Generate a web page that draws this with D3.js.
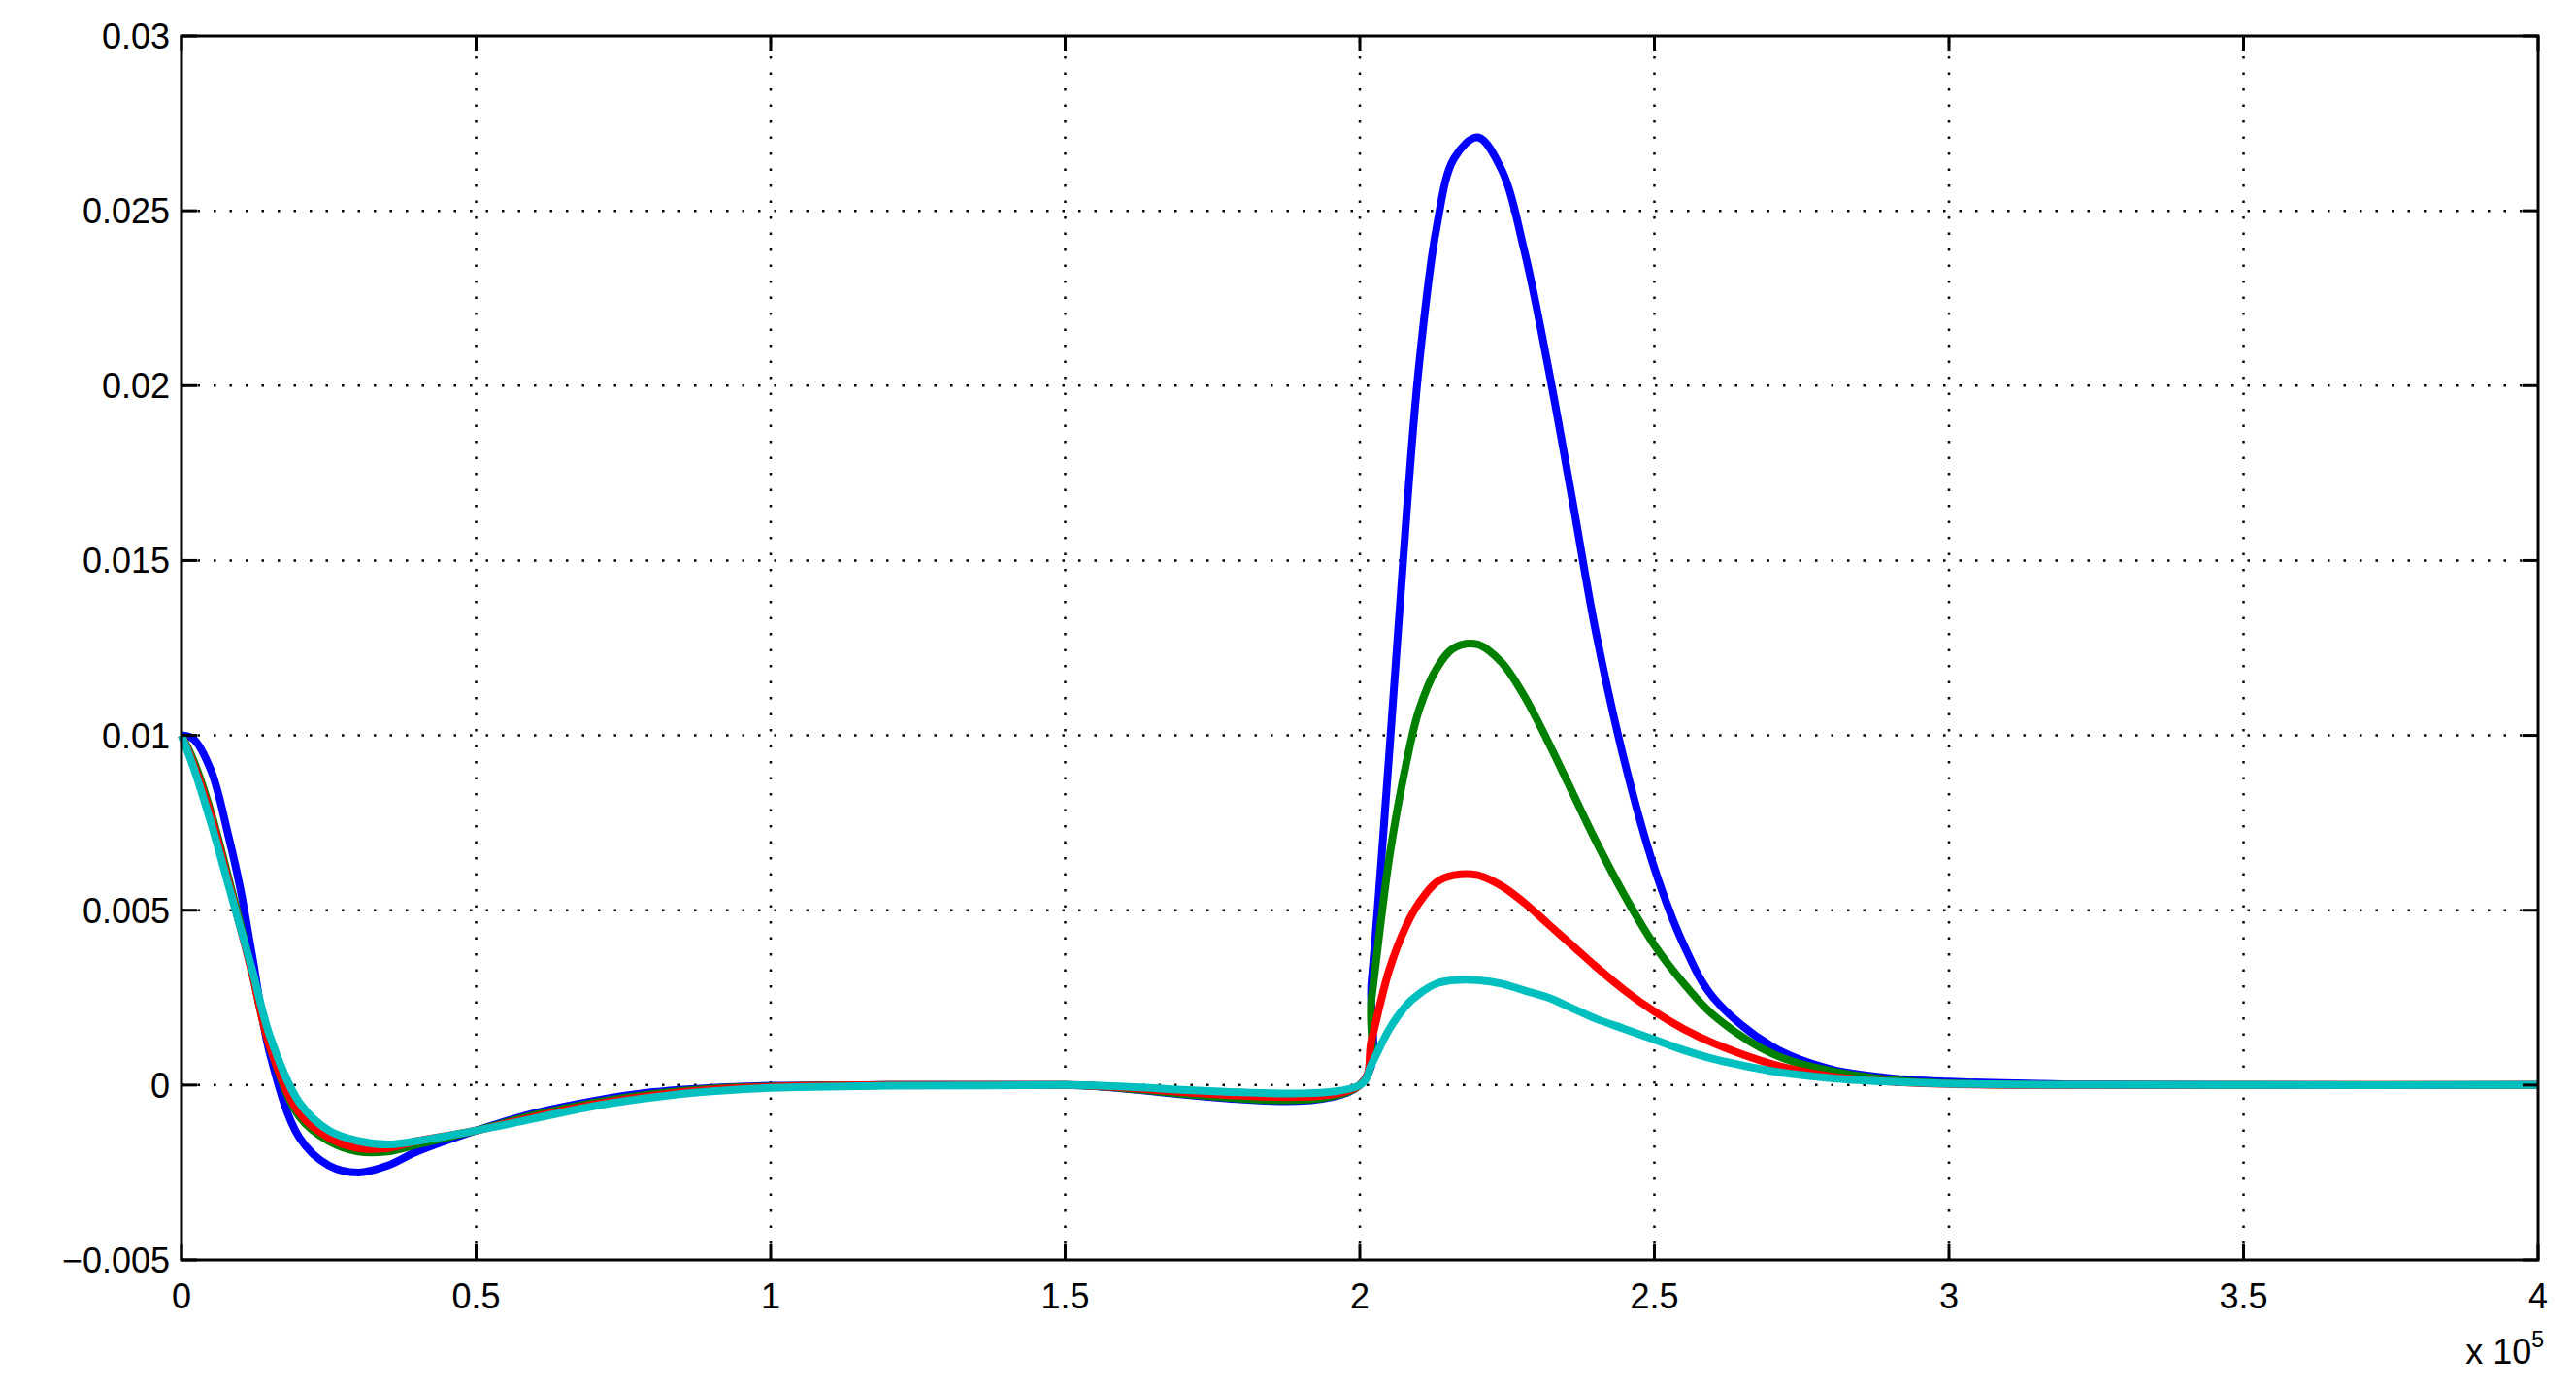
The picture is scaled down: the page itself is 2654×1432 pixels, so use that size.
<!DOCTYPE html>
<html><head><meta charset="utf-8">
<script src="https://d3js.org/d3.v7.min.js"></script>
<style>body{margin:0;background:#fff}text{font-family:"Liberation Sans",Arial,sans-serif}</style>
</head><body><svg id="c" width="2654" height="1432"></svg>
<script>
// x in units of 1e5
const xTicks = [0, 0.5, 1, 1.5, 2, 2.5, 3, 3.5, 4];
const yTicks = [-0.005, 0, 0.005, 0.01, 0.015, 0.02, 0.025, 0.03];
const yLabels = ["\u22120.005", "0", "0.005", "0.01", "0.015", "0.02", "0.025", "0.03"];

const xs = [0, 0.02, 0.05, 0.08, 0.1, 0.12, 0.15, 0.2, 0.25, 0.3, 0.35, 0.4, 0.5, 0.6, 0.7, 0.8, 0.9, 1.0, 1.2, 1.5, 2.0,
            2.02, 2.05, 2.08, 2.1, 2.13, 2.16, 2.2, 2.24, 2.28, 2.32, 2.36, 2.4, 2.45, 2.5, 2.55, 2.6, 2.7, 2.8, 2.9, 3.0, 3.2, 3.5, 4.0];
const blue  = [0.01, 0.0099, 0.009, 0.0071, 0.0056, 0.0037, 0.0009, -0.0015, -0.0023, -0.0025, -0.0023, -0.0019, -0.0013, -0.0008, -0.00045, -0.0002, -0.00008, -0.00002, 0, 0, 0,
               0.003, 0.0095, 0.0165, 0.0205, 0.0245, 0.0265, 0.0271, 0.0262, 0.0238, 0.0205, 0.0168, 0.013, 0.0092, 0.0062, 0.004, 0.0025, 0.0011, 0.00045, 0.0002, 0.0001, 0.00002, 0, 0];
const green = [0.01, 0.0093, 0.0078, 0.0059, 0.0046, 0.0032, 0.0011, -0.0009, -0.0016, -0.0019, -0.0019, -0.0017, -0.0013, -0.00085, -0.0005, -0.00025, -0.0001, -0.00004, 0, 0, 0,
               0.0025, 0.0065, 0.0093, 0.0107, 0.0119, 0.0125, 0.0126, 0.0121, 0.0111, 0.0098, 0.0084, 0.007, 0.0054, 0.004, 0.0029, 0.002, 0.0009, 0.0004, 0.00015, 0.00005, 0, 0, 0];
const red   = [0.01, 0.0092, 0.0077, 0.0058, 0.0045, 0.0032, 0.0011, -0.0008, -0.0015, -0.0018, -0.0018, -0.0016, -0.0013, -0.0009, -0.00055, -0.0003, -0.00013, -0.00005, 0, 0, 0,
               0.0013, 0.0033, 0.0046, 0.0052, 0.0058, 0.006, 0.006, 0.0057, 0.0052, 0.0046, 0.004, 0.0034, 0.0027, 0.0021, 0.0016, 0.0012, 0.0006, 0.00025, 0.0001, 0.00003, 0, 0, 0];
const cyan  = [0.01, 0.0091, 0.0075, 0.0057, 0.0045, 0.0033, 0.0014, -0.0005, -0.0013, -0.0016, -0.0017, -0.0016, -0.0013, -0.00095, -0.0006, -0.00035, -0.00018, -0.00008, -0.00002, 0, 0,
               0.0006, 0.0016, 0.0023, 0.0026, 0.0029, 0.003, 0.003, 0.0029, 0.0027, 0.0025, 0.0022, 0.0019, 0.0016, 0.0013, 0.001, 0.00075, 0.0004, 0.0002, 0.0001, 0.00004, 0.00001, 0, 0];
const series = [
  {name: "s1", values: blue,  color: "#0000ff"},
  {name: "s2", values: green, color: "#008000"},
  {name: "s3", values: red,   color: "#ff0000"},
  {name: "s4", values: cyan,  color: "#00bfbf"}
];

const L = 187, T = 37, R = 2615, B = 1298;
const svg = d3.select("#c");
const x = d3.scaleLinear().domain([0, 4]).range([L, R]);
const y = d3.scaleLinear().domain([-0.005, 0.03]).range([B, T]);

// grid
const grid = svg.append("g").attr("stroke", "#000").attr("stroke-width", 2.5).attr("stroke-dasharray", "2.5,14");
xTicks.slice(1, -1).forEach(v => grid.append("line").attr("x1", x(v)).attr("x2", x(v)).attr("y1", B).attr("y2", T));
yTicks.slice(1, -1).forEach(v => grid.append("line").attr("x1", L).attr("x2", R).attr("y1", y(v)).attr("y2", y(v)));

// curves
const line = d3.line().x((d, i) => x(xs[i])).y(d => y(d)).curve(d3.curveCatmullRom.alpha(0.5));
series.forEach(s => svg.append("path").attr("d", line(s.values)).attr("fill", "none")
  .attr("stroke", s.color).attr("stroke-width", 8).attr("stroke-linejoin", "round"));

// box and ticks
const ax = svg.append("g").attr("stroke", "#000").attr("stroke-width", 3);
ax.append("rect").attr("x", L).attr("y", T).attr("width", R - L).attr("height", B - T).attr("fill", "none");
const tl = 16;
xTicks.forEach(v => {
  ax.append("line").attr("x1", x(v)).attr("x2", x(v)).attr("y1", B).attr("y2", B - tl);
  ax.append("line").attr("x1", x(v)).attr("x2", x(v)).attr("y1", T).attr("y2", T + tl);
});
yTicks.forEach(v => {
  ax.append("line").attr("x1", L).attr("x2", L + tl).attr("y1", y(v)).attr("y2", y(v));
  ax.append("line").attr("x1", R).attr("x2", R - tl).attr("y1", y(v)).attr("y2", y(v));
});

const fs = 36;
xTicks.forEach(v => svg.append("text").attr("x", x(v)).attr("y", B + 50).attr("text-anchor", "middle")
  .attr("font-size", fs).text(String(v)));
yTicks.forEach((v, i) => svg.append("text").attr("x", L - 12).attr("y", y(v) + 13).attr("text-anchor", "end")
  .attr("font-size", fs).text(yLabels[i]));
const ex = svg.append("text").attr("x", R + 6).attr("y", B + 107).attr("text-anchor", "end").attr("font-size", fs);
ex.append("tspan").text("x 10");
ex.append("tspan").attr("font-size", 23).attr("dy", -17).text("5");
</script></body></html>
